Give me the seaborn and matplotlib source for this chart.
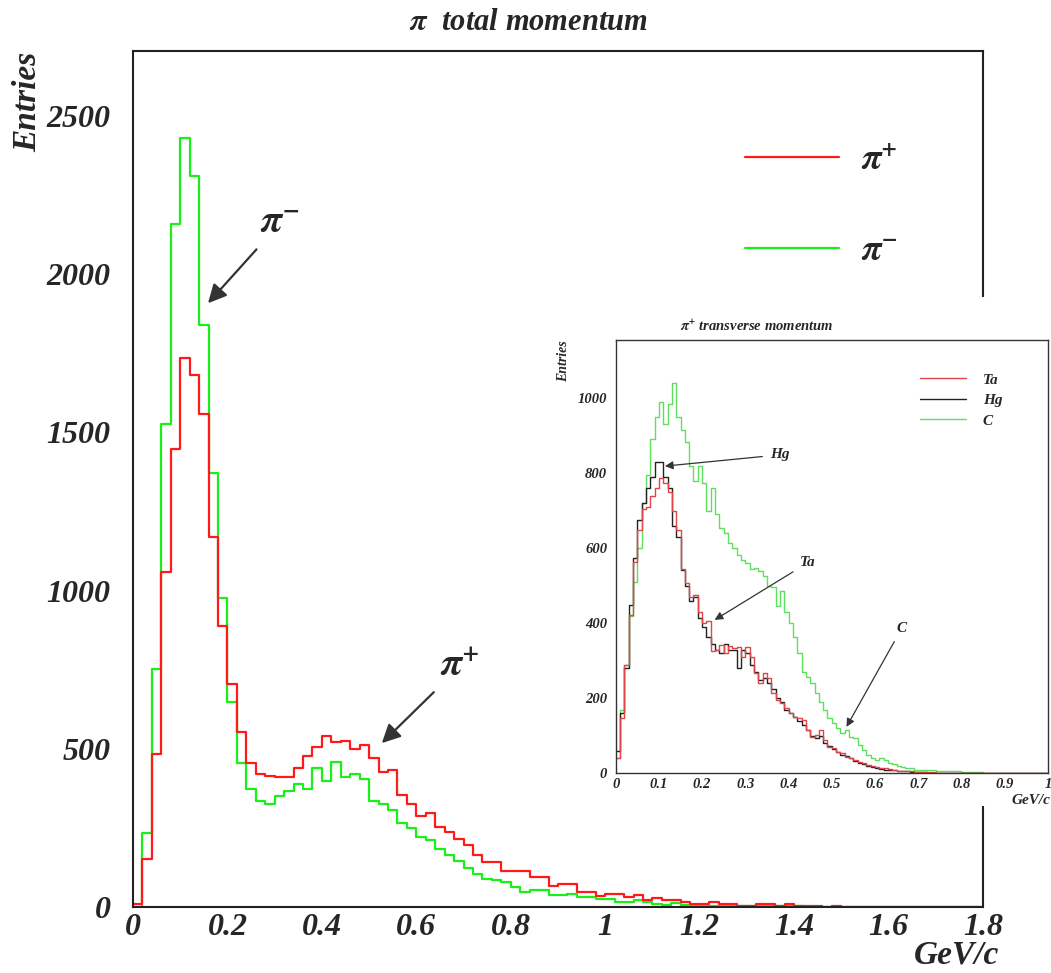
import numpy as np
import pandas as pd
import matplotlib
matplotlib.use("Agg")
import matplotlib.pyplot as plt
import seaborn as sns
from matplotlib.patches import Rectangle
from matplotlib.lines import Line2D
from matplotlib.ticker import MultipleLocator, FuncFormatter

# ---------------- data ----------------
main_bin_width = 0.02          # GeV/c, 90 bins from 0 to 1.8
pi_plus = [10, 151, 483, 1059, 1447, 1736, 1681, 1559, 1170, 888,
           705, 553, 454, 420, 415, 412, 412, 440, 477, 507,
           540, 520, 526, 498, 513, 472, 428, 432, 353, 325,
           288, 298, 253, 237, 214, 197, 165, 142, 142, 113,
           113, 113, 95, 95, 66, 74, 74, 47, 47, 35,
           42, 42, 32, 37, 23, 29, 21, 21, 16, 10,
           10, 16, 8, 8, 3, 3, 10, 10, 4, 10,
           3, 3, 3, 0, 3, 0, 0, 0, 0, 0,
           0, 0, 0, 0, 0, 0, 0, 0, 0, 0]
pi_minus = [0, 233, 752, 1525, 2159, 2430, 2310, 1838, 1372, 975,
            649, 454, 372, 335, 324, 352, 368, 389, 374, 440,
            399, 458, 412, 420, 405, 335, 325, 306, 264, 249,
            220, 211, 184, 165, 145, 123, 105, 90, 86, 79,
            63, 47, 53, 53, 37, 37, 42, 32, 32, 24,
            24, 16, 16, 21, 16, 8, 5, 13, 5, 3,
            3, 3, 2, 2, 2, 2, 2, 2, 2, 2,
            2, 0, 0, 0, 0, 0, 0, 0, 0, 0,
            0, 0, 0, 0, 0, 0, 0, 0, 0, 0]

inset_bin_width = 0.01         # GeV/c, 100 bins from 0 to 1
ta = [40, 147, 289, 422, 564, 649, 705, 711, 738, 760,
      787, 773, 751, 700, 650, 545, 507, 471, 476, 430,
      400, 405, 325, 330, 342, 320, 340, 333, 338, 311,
      338, 311, 267, 240, 267, 253, 213, 196, 187, 173,
      160, 151, 147, 142, 116, 98, 102, 116, 89, 71,
      67, 58, 53, 44, 40, 36, 31, 27, 22, 20,
      18, 15, 13, 11, 9, 7, 6, 5, 5, 4,
      4, 3, 3, 3, 2, 2, 2, 2, 1, 1,
      1, 1, 1, 1, 0, 0, 0, 0, 0, 0,
      0, 0, 0, 0, 0, 0, 0, 0, 0, 0]
hg = [60, 160, 280, 450, 573, 676, 720, 760, 790, 831,
      831, 790, 760, 660, 631, 542, 500, 460, 470, 413,
      390, 364, 345, 330, 320, 345, 330, 330, 280, 330,
      320, 290, 270, 250, 255, 240, 225, 200, 190, 170,
      160, 150, 140, 130, 115, 100, 95, 100, 80, 72,
      65, 58, 50, 45, 40, 34, 28, 24, 20, 18,
      15, 12, 10, 9, 8, 6, 5, 5, 4, 3,
      3, 3, 2, 2, 2, 2, 1, 1, 1, 1,
      1, 1, 0, 0, 0, 0, 0, 0, 0, 0,
      0, 0, 0, 0, 0, 0, 0, 0, 0, 0]
carbon = [40, 170, 290, 420, 510, 600, 720, 795, 890, 950,
          990, 930, 985, 1040, 950, 916, 884, 818, 780, 818,
          773, 700, 760, 690, 655, 640, 615, 600, 582, 570,
          560, 545, 548, 540, 525, 500, 497, 445, 485, 430,
          400, 364, 320, 271, 258, 240, 213, 191, 169, 147,
          133, 120, 107, 116, 98, 93, 76, 62, 49, 40,
          36, 40, 35, 27, 25, 20, 17, 15, 13, 10,
          9, 8, 8, 8, 7, 6, 6, 6, 5, 5,
          4, 4, 3, 3, 3, 2, 2, 2, 2, 2,
          2, 1, 1, 1, 1, 1, 1, 1, 1, 1]

main_labels = [r"$\mathrm{\pi}^{+}$", r"$\mathrm{\pi}^{-}$"]
inset_labels = ["Ta", "Hg", "C"]

RED = "#ff1a1a"
GREEN = "#19f019"
INSET_RED = "#e0454a"
INSET_GREEN = "#5ee05e"

# ---------------- tables ----------------
n_m = len(pi_plus)
df_main = pd.DataFrame({
    "p": (np.arange(n_m) + 0.5) * main_bin_width,
    "pi_plus": pi_plus,
    "pi_minus": pi_minus,
})
n_i = len(ta)
df_inset = pd.DataFrame({
    "pt": (np.arange(n_i) + 0.5) * inset_bin_width,
    "Ta": ta, "Hg": hg, "C": carbon,
})
edges_m = list(np.arange(n_m + 1) * main_bin_width)
edges_i = list(np.arange(n_i + 1) * inset_bin_width)

# ---------------- style ----------------
sns.set_style("white")
plt.rcParams["font.family"] = ["Liberation Serif", "DejaVu Serif"]
plt.rcParams["font.weight"] = "bold"
plt.rcParams["font.style"] = "italic"
plt.rcParams["mathtext.fontset"] = "stix"

fig = plt.figure(figsize=(10.51, 9.73), dpi=100)

# ---------------- main axes ----------------
ax = fig.add_axes([0.1265, 0.0678, 0.8088, 0.8798])
sns.histplot(data=df_main, x="p", weights="pi_minus", bins=edges_m, element="step",
             fill=False, color=GREEN, lw=1.6, ax=ax)
sns.histplot(data=df_main, x="p", weights="pi_plus", bins=edges_m, element="step",
             fill=False, color=RED, lw=1.6, ax=ax)
ax.set_xlim(0, 1.8)
ax.set_ylim(0, 2705)
ax.set_xlabel("")
ax.set_ylabel("")
ax.xaxis.set_major_locator(MultipleLocator(0.2))
ax.xaxis.set_minor_locator(MultipleLocator(0.05))
ax.yaxis.set_major_locator(MultipleLocator(500))
ax.yaxis.set_minor_locator(MultipleLocator(250))
ax.xaxis.set_major_formatter(FuncFormatter(lambda v, p: f"{v:g}"))
ax.tick_params(axis="both", which="both", direction="in", width=1.5,
               color="#222222", labelsize=23)
ax.tick_params(axis="x", which="major", length=12, pad=4)
ax.tick_params(axis="x", which="minor", length=6)
ax.tick_params(axis="y", which="both", length=12, pad=16)
for s in ax.spines.values():
    s.set_color("#222222")
    s.set_linewidth(1.5)

handles = [Line2D([], [], color=RED, lw=1.6), Line2D([], [], color=GREEN, lw=1.6)]
ax.legend(handles, main_labels, loc="center left", bbox_to_anchor=(0.72, 0.818),
          frameon=False, fontsize=26, handlelength=2.6, handletextpad=0.6,
          labelspacing=1.6, borderpad=0, borderaxespad=0)

arrow_kw = dict(arrowstyle="-|>", color="#333333", lw=1.6, mutation_scale=28,
                shrinkA=4, shrinkB=0)
ax.annotate(r"$\mathrm{\pi}^{-}$", xy=(0.159, 1908), xytext=(0.311, 2160),
            fontsize=28, ha="center", va="center", arrowprops=arrow_kw)
ax.annotate(r"$\mathrm{\pi}^{+}$", xy=(0.527, 518), xytext=(0.6925, 760),
            fontsize=28, ha="center", va="center", arrowprops=arrow_kw)

fig.text(0.503, 0.977, r"$\mathrm{\pi}$  total momentum", ha="center", va="center",
         fontsize=22)
fig.text(0.026, 0.947, "Entries", rotation=90, ha="center", va="top", fontsize=24)
fig.text(0.951, 0.018, "GeV/c", ha="right", va="center", fontsize=24)

# white backing for the inset
fig.patches.append(Rectangle((0.521, 0.1716), 0.479, 0.523, transform=fig.transFigure,
                             facecolor="white", edgecolor="none", zorder=1))

# ---------------- inset axes ----------------
ax2 = fig.add_axes([0.5858, 0.2052, 0.4113, 0.4453])
ax2.set_zorder(2)
sns.histplot(data=df_inset, x="pt", weights="C", bins=edges_i, element="step",
             fill=False, color=INSET_GREEN, lw=1.0, ax=ax2)
sns.histplot(data=df_inset, x="pt", weights="Hg", bins=edges_i, element="step",
             fill=False, color="#222222", lw=1.0, ax=ax2)
sns.histplot(data=df_inset, x="pt", weights="Ta", bins=edges_i, element="step",
             fill=False, color=INSET_RED, lw=1.0, ax=ax2)
ax2.set_xlim(0, 1)
ax2.set_ylim(0, 1155)
ax2.set_xlabel("")
ax2.set_ylabel("")
ax2.xaxis.set_major_locator(MultipleLocator(0.1))
ax2.xaxis.set_minor_locator(MultipleLocator(0.02))
ax2.yaxis.set_major_locator(MultipleLocator(200))
ax2.yaxis.set_minor_locator(MultipleLocator(50))
ax2.xaxis.set_major_formatter(FuncFormatter(lambda v, p: f"{v:g}"))
ax2.tick_params(axis="both", which="both", direction="in", width=0.9,
                color="#333333", labelsize=10.5)
ax2.tick_params(axis="both", which="major", length=6)
ax2.tick_params(axis="both", which="minor", length=3)
ax2.tick_params(axis="x", which="major", pad=3)
ax2.tick_params(axis="y", which="major", pad=6)
for s in ax2.spines.values():
    s.set_color("#333333")
    s.set_linewidth(1.0)

ih = [Line2D([], [], color=INSET_RED, lw=1.0), Line2D([], [], color="#222222", lw=1.0),
      Line2D([], [], color=INSET_GREEN, lw=1.0)]
ax2.legend(ih, inset_labels, loc="center left", bbox_to_anchor=(0.704, 0.861),
           frameon=False, fontsize=11, handlelength=3.0, handletextpad=1.1,
           labelspacing=0.45, borderpad=0, borderaxespad=0)

akw = dict(arrowstyle="-|>", color="#333333", lw=0.9, mutation_scale=12,
           shrinkA=3, shrinkB=0)
ax2.annotate("Hg", xy=(0.114, 819), xytext=(0.379, 849), fontsize=11,
             ha="center", va="center", arrowprops=akw)
ax2.annotate("Ta", xy=(0.229, 409), xytext=(0.444, 561), fontsize=11,
             ha="center", va="center", arrowprops=akw)
ax2.annotate("C", xy=(0.534, 124), xytext=(0.662, 387), fontsize=11,
             ha="center", va="center", arrowprops=akw)

fig.text(0.72, 0.665, r"$\mathrm{\pi}^{+}$ transverse momentum", ha="center",
         va="center", fontsize=10.5)
fig.text(0.536, 0.629, "Entries", rotation=90, ha="center", va="center", fontsize=10)
fig.text(0.962, 0.177, "GeV/c", ha="left", va="center", fontsize=11)

fig.savefig("out.png", dpi=100)
